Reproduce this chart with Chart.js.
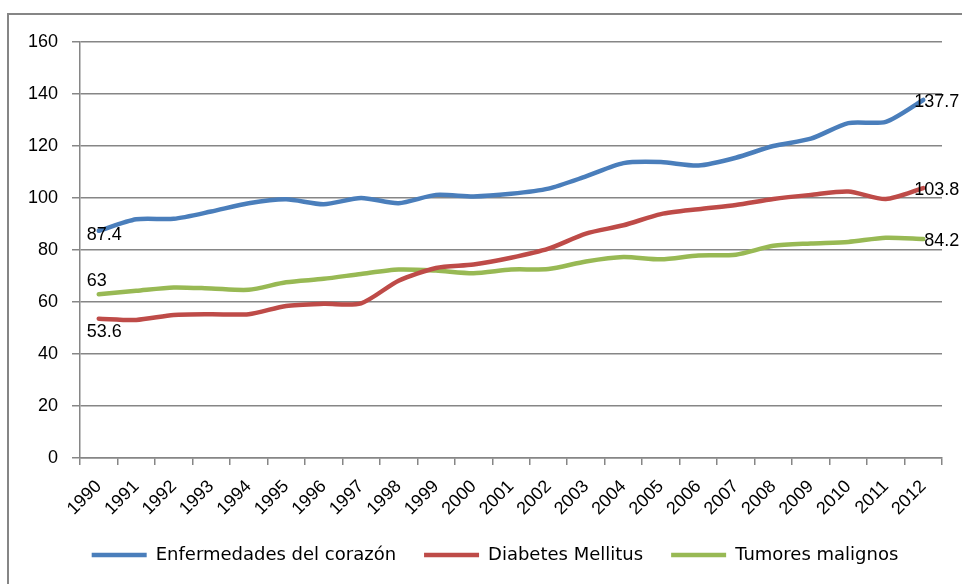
<!DOCTYPE html>
<html>
<head>
<meta charset="utf-8">
<script src="https://cdn.jsdelivr.net/npm/chart.js@4.4.0/dist/chart.umd.min.js"></script>
<style>
  html, body { margin: 0; padding: 0; background: #fff; overflow: hidden; }
  #frame { position: absolute; left: 7px; top: 13px; width: 1000px; height: 700px; border: 2px solid #868686; }
  #chart { position: absolute; left: 0; top: 0; }
</style>
</head>
<body>
<div id="frame"></div>
<canvas id="chart" width="962" height="584"></canvas>
<script>
// años
const years = ['1990', '1991', '1992', '1993', '1994', '1995', '1996', '1997', '1998', '1999', '2000',
  '2001', '2002', '2003', '2004', '2005', '2006', '2007', '2008', '2009', '2010', '2011', '2012'];

// series
const corazon = [87.4, 91.8, 92, 94.8, 98, 99.5, 97.6, 100, 98, 101.2, 100.6, 101.6,
  103.6, 108.3, 113.4, 113.8, 112.5, 115.5, 120, 122.8, 128.8, 129.3, 137.7];
const diabetes = [53.6, 53.1, 55, 55.3, 55.3, 58.5, 59.3, 59.5, 68.2, 73.1, 74.4, 77,
  80.5, 86.3, 89.5, 93.8, 95.7, 97.3, 99.6, 101.2, 102.5, 99.6, 103.8];
const tumores = [63, 64.3, 65.6, 65.2, 64.7, 67.6, 68.9, 70.8, 72.5, 72.1, 71.1, 72.5,
  72.7, 75.6, 77.3, 76.4, 77.9, 78.2, 81.6, 82.5, 83.1, 84.7, 84.2];

const yTicks = [0, 20, 40, 60, 80, 100, 120, 140, 160];

const gray = '#868686';

// desplazamiento de las etiquetas de inicio (dx, dy) por serie
const startLabelOffset = [[-12, 4], [-12, 13], [-12, -13]];

// etiquetas de valor al inicio y al final de cada línea
const endLabels = {
  id: 'endLabels',
  afterDatasetsDraw(chart) {
    const ctx = chart.ctx;
    ctx.save();
    ctx.font = '18px "Liberation Sans", Arial, sans-serif';
    ctx.fillStyle = '#000';
    ctx.textBaseline = 'middle';
    chart.data.datasets.forEach((ds, i) => {
      const pts = chart.getDatasetMeta(i).data;
      const first = pts[0];
      const last = pts[pts.length - 1];
      const off = startLabelOffset[i];
      ctx.textAlign = 'left';
      ctx.fillText(String(ds.data[0]), first.x + off[0], first.y + off[1]);
      ctx.textAlign = 'right';
      ctx.fillText(String(ds.data[ds.data.length - 1]), last.x + 36, last.y + 2);
    });
    ctx.restore();
  }
};

// la leyenda va un poco a la derecha del centro
const legendShift = {
  id: 'legendShift',
  afterLayout(chart) {
    chart.legend.left += 19;
    chart.legend.right += 19;
  }
};

function serie(label, data, color) {
  return {
    label: label,
    data: data,
    borderColor: color,
    backgroundColor: color,
    borderWidth: 4.5,
    borderCapStyle: 'round',
    borderJoinStyle: 'round',
    pointRadius: 0,
    pointHoverRadius: 0,
    tension: 0.25,
    fill: false
  };
}

new Chart(document.getElementById('chart'), {
  type: 'line',
  data: {
    labels: years,
    datasets: [
      serie('Enfermedades del corazón', corazon, '#4A7EBB'),
      serie('Diabetes Mellitus', diabetes, '#BE4B48'),
      serie('Tumores malignos', tumores, '#98B954')
    ]
  },
  options: {
    responsive: false,
    animation: false,
    devicePixelRatio: 1,
    layout: { padding: { left: 10, right: 20, top: 42, bottom: 10 } },
    plugins: {
      tooltip: { enabled: false },
      legend: {
        position: 'bottom',
        labels: {
          usePointStyle: true,
          pointStyle: 'line',
          pointStyleWidth: 55,
          padding: 28,
          color: '#000',
          font: { family: '"DejaVu Sans", sans-serif', size: 18 }
        }
      }
    },
    scales: {
      x: {
        offset: true,
        grid: {
          offset: true,
          drawOnChartArea: false,
          drawTicks: true,
          tickLength: 7,
          color: gray,
          lineWidth: 1.5
        },
        border: { color: gray, width: 1.5 },
        ticks: {
          autoSkip: false,
          minRotation: 45,
          maxRotation: 45,
          padding: 11,
          color: '#000',
          font: { family: '"Liberation Sans", Arial, sans-serif', size: 18 }
        },
        afterFit(scale) { scale.height = 60; }
      },
      y: {
        min: 0,
        max: 160,
        afterBuildTicks(scale) { scale.ticks = yTicks.map(v => ({ value: v })); },
        grid: { color: gray, lineWidth: 1.5, tickLength: 8 },
        border: { color: gray, width: 1.5 },
        ticks: {
          padding: 14,
          color: '#000',
          font: { family: '"Liberation Sans", Arial, sans-serif', size: 18 }
        },
        afterFit(scale) { scale.width = 70; }
      }
    }
  },
  plugins: [endLabels, legendShift]
});
</script>
</body>
</html>
